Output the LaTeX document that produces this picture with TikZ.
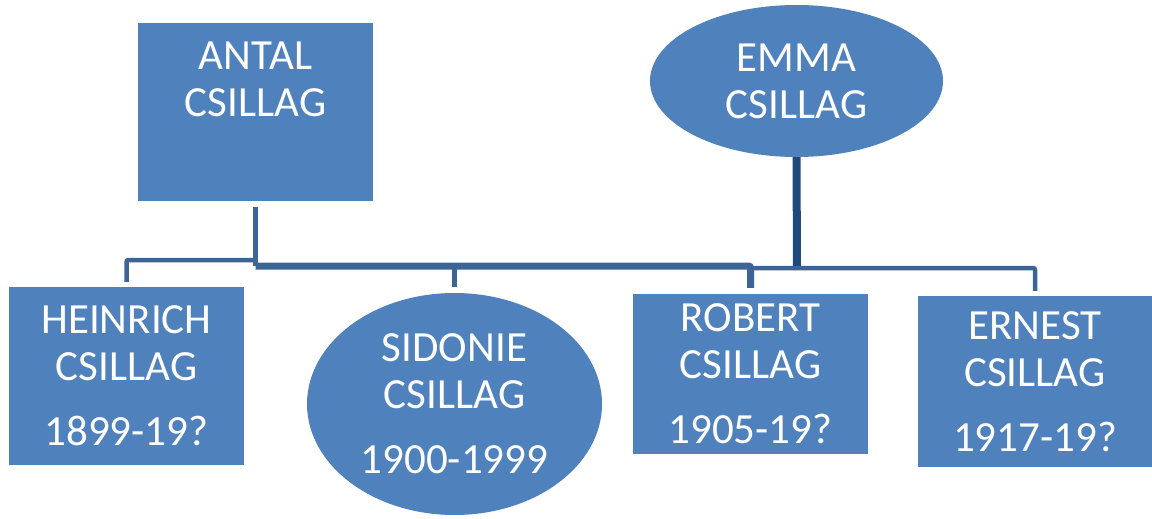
\documentclass[tikz,border=0pt]{standalone}
\usepackage{fontspec}
\setmainfont{Carlito}
\usetikzlibrary{shapes.geometric}
\definecolor{nodefill}{HTML}{4F81BD}
\definecolor{connc}{HTML}{3C6496}
\definecolor{emmac}{HTML}{1F497D}
\tikzset{
  person/.style={fill=nodefill, draw=none, text=white, inner sep=0pt, align=center,
    font=\fontsize{43}{47}\selectfont},
  boxnode/.style={person, rectangle},
  ovalnode/.style={person, ellipse},
  conn/.style={draw=connc, line width=5pt, rounded corners=2pt},
  emmaline/.style={draw=emmac, line width=8pt},
}
\begin{document}
\begin{tikzpicture}[x=1pt, y=-1pt]
\useasboundingbox (0,0) rectangle (1152,519);
% nodes
\node[boxnode, minimum width=235pt, minimum height=178pt] (antal) at (255.5,112)
  {ANTAL\\CSILLAG\\[18pt]\phantom{1}};
\node[ovalnode, minimum width=293pt, minimum height=152pt] (emma) at (796.5,81)
  {EMMA\\CSILLAG};
\node[boxnode, minimum width=235pt, minimum height=178pt] (heinrich) at (126.5,376)
  {HEINRICH\\CSILLAG\\[18pt]1899-19?};
\node[ovalnode, minimum width=295pt, minimum height=222pt] (sidonie) at (454.5,404)
  {SIDONIE\\CSILLAG\\[18pt]1900-1999};
\node[boxnode, minimum width=235pt, minimum height=160pt] (robert) at (750.5,374)
  {ROBERT\\CSILLAG\\[18pt]1905-19?};
\node[boxnode, minimum width=234pt, minimum height=171pt] (ernest) at (1035,381.5)
  {ERNEST\\CSILLAG\\[18pt]1917-19?};
% bus coordinates
\coordinate (busA) at (255.5,266);
\coordinate (busH) at (255.5,260);
\coordinate (busE) at (797,268);
% Antal's connectors
\draw[conn, line width=5.5pt, shorten <=6pt] (antal.south) -- (busA);
\draw[conn, line width=7pt, shorten >=6pt] (busA) -| (robert.north);
\draw[conn, line width=4.5pt, shorten >=5pt] (busH) -| (heinrich.north);
\draw[conn, shorten >=6pt] (sidonie.north |- busA) -- (sidonie.north);
% Emma's connectors
\draw[emmaline] (emma.south) -- (busE);
\draw[conn, line width=4.5pt, shorten >=5pt] (robert.north |- busE) -| (ernest.north);
\end{tikzpicture}
\end{document}
